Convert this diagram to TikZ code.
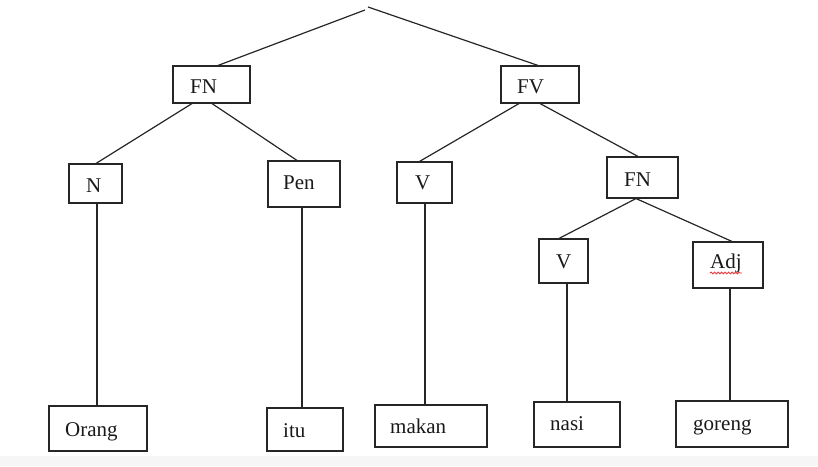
\documentclass[tikz,border=0pt]{standalone}
\usepackage{fontspec}
\setmainfont{Liberation Serif}
\usetikzlibrary{decorations.pathmorphing}
\begin{document}
\begin{tikzpicture}[x=1pt,y=-1pt,
  box/.style={draw=black!85, line width=1.1pt, rectangle, inner sep=0pt},
  lbl/.style={anchor=base west, inner sep=0pt, font=\fontsize{21}{25}\selectfont, text=black!90},
  edge/.style={draw=black!85, line width=1.2pt}]
\useasboundingbox (0,0) rectangle (818,466);
\fill[gray!7] (0,456) rectangle (818,466);

% boxes
\node[box, minimum width=77pt, minimum height=37pt] (fn) at (211.5,84.5) {};
\node[box, minimum width=78pt, minimum height=37pt] (fv) at (540,84.5) {};
\node[box, minimum width=53pt, minimum height=39pt] (n) at (95.5,183.5) {};
\node[box, minimum width=72pt, minimum height=46pt] (pen) at (304,184) {};
\node[box, minimum width=55pt, minimum height=41pt] (v) at (424.5,182.5) {};
\node[box, minimum width=71pt, minimum height=41pt] (fn2) at (642.5,177.5) {};
\node[box, minimum width=49pt, minimum height=44pt] (v2) at (563.5,261) {};
\node[box, minimum width=70pt, minimum height=46pt] (adj) at (728,265) {};
\node[box, minimum width=98pt, minimum height=45pt] (orang) at (98,428.5) {};
\node[box, minimum width=76pt, minimum height=43pt] (itu) at (305,429.5) {};
\node[box, minimum width=112pt, minimum height=42pt] (makan) at (431,426) {};
\node[box, minimum width=86pt, minimum height=45pt] (nasi) at (577,424.5) {};
\node[box, minimum width=112pt, minimum height=46pt] (goreng) at (732,424) {};

% texts
\node[lbl] (tfn) at (190,93) {FN};
\node[lbl] (tfv) at (517,93) {FV};
\node[lbl] (tn) at (86,192) {N};
\node[lbl] (tpen) at (283,189) {Pen};
\node[lbl] (tv) at (415,189) {V};
\node[lbl] (tfn2) at (624,186) {FN};
\node[lbl] (tv2) at (556,268) {V};
\node[lbl] (tadj) at (710,268) {Adj};
\node[lbl] (torang) at (65,436) {Orang};
\node[lbl] (titu) at (283,437) {itu};
\node[lbl] (tmakan) at (390,433) {makan};
\node[lbl] (tnasi) at (550,430) {nasi};
\node[lbl] (tgoreng) at (693,430) {goreng};

\draw[red!80, line width=0.8pt, decorate, decoration={snake, amplitude=1pt, segment length=3.5pt}]
  ([yshift=-5pt]tadj.base west) -- ([yshift=-5pt]tadj.base east);

% root
\coordinate (rootl) at (365,10);
\coordinate (rootr) at (368,7);
\draw[edge] (rootl) -- ([xshift=6.5pt]fn.north);
\draw[edge] (rootr) -- ([xshift=-2pt]fv.north);

% branches
\draw[edge] ([xshift=-19.5pt]fn.south) -- ([xshift=0.5pt]n.north);
\draw[edge] ([xshift=0.5pt]fn.south) -- ([xshift=-7pt]pen.north);
\draw[edge] ([xshift=-21pt]fv.south) -- ([xshift=-5pt]v.north);
\draw[edge] (fv.south) -- ([xshift=-4.5pt]fn2.north);
\draw[edge] ([xshift=-6.5pt]fn2.south) -- ([xshift=-4.5pt]v2.north);
\draw[edge] ([xshift=-6.5pt]fn2.south) -- ([xshift=4pt]adj.north);

% verticals
\draw[edge] ([xshift=1.5pt]n.south) -- ([xshift=-1pt]orang.north);
\draw[edge] ([xshift=-2pt]pen.south) -- ([xshift=-3pt]itu.north);
\draw[edge] ([xshift=0.5pt]v.south) -- ([xshift=-6pt]makan.north);
\draw[edge] ([xshift=3.5pt]v2.south) -- ([xshift=-10pt]nasi.north);
\draw[edge] ([xshift=2pt]adj.south) -- ([xshift=-2pt]goreng.north);
\end{tikzpicture}
\end{document}
